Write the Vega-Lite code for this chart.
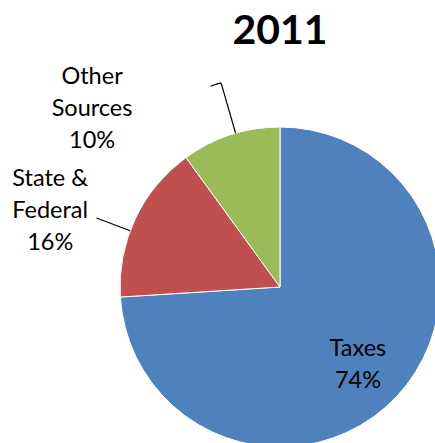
{
  "$schema": "https://vega.github.io/schema/vega-lite/v6.json",
  "width": 320,
  "height": 320,
  "autosize": {"type": "none"},
  "padding": {"left": 120, "top": 127, "right": 0, "bottom": 0},
  "background": "white",
  "config": {"view": {"stroke": null}, "font": "Lato"},
  "title": {"text": "2011", "fontSize": 41, "fontWeight": "bold", "font": "Lato", "color": "#000", "anchor": "middle", "frame": "group", "baseline": "alphabetic", "offset": -20},
  "data": {
    "values": [
      {"slice": "Taxes", "value": 74, "order": 1, "label": ["Taxes", "74%"]},
      {"slice": "State & Federal", "value": 16, "order": 2, "label": ["State &", "Federal", "16%"]},
      {"slice": "Other Sources", "value": 10, "order": 3, "label": ["Other", "Sources", "10%"]}
    ]
  },
  "transform": [{"stack": "value", "sort": [{"field": "order"}], "groupby": [], "as": ["s", "e"]}],
  "layer": [
    {
      "mark": {"type": "arc", "radius": 160, "stroke": "#ffffff", "strokeWidth": 1},
      "encoding": {
        "theta": {"field": "s", "type": "quantitative", "scale": {"domain": [0, 100]}},
        "theta2": {"field": "e"},
        "color": {"field": "slice", "type": "nominal", "scale": {"domain": ["Taxes", "State & Federal", "Other Sources"], "range": ["#4F81BD", "#C0504D", "#9BBB59"]}, "legend": null}
      }
    },
    {
      "transform": [{"filter": "datum.slice === 'Other Sources'"}],
      "mark": {"type": "arc", "radius": 212, "radius2": 160, "thetaOffset": -0.281, "theta2Offset": -0.281, "fillOpacity": 0, "stroke": "#000000", "strokeWidth": 1.2},
      "encoding": {"theta": {"field": "e", "type": "quantitative", "scale": {"domain": [0, 100]}}, "theta2": {"field": "e"}}
    },
    {
      "transform": [{"filter": "datum.slice === 'Other Sources'"}],
      "mark": {"type": "arc", "radius": 212.4, "radius2": 212.4, "thetaOffset": -0.281, "theta2Offset": -0.3334, "fillOpacity": 0, "stroke": "#000000", "strokeWidth": 1.2},
      "encoding": {"theta": {"field": "e", "type": "quantitative", "scale": {"domain": [0, 100]}}, "theta2": {"field": "e"}}
    },
    {
      "transform": [{"filter": "datum.slice === 'State & Federal'"}],
      "mark": {"type": "arc", "radius": 196, "radius2": 160, "thetaOffset": -0.583, "theta2Offset": -0.583, "fillOpacity": 0, "stroke": "#000000", "strokeWidth": 1.2},
      "encoding": {"theta": {"field": "e", "type": "quantitative", "scale": {"domain": [0, 100]}}, "theta2": {"field": "e"}}
    },
    {
      "transform": [{"filter": "datum.slice === 'Taxes'"}],
      "mark": {"type": "text", "radius": 99.6, "thetaOffset": 2.243, "fontSize": 23.5, "lineHeight": 32, "align": "center", "baseline": "middle", "font": "Lato", "color": "#000000"},
      "encoding": {
        "theta": {"field": "s", "type": "quantitative", "scale": {"domain": [0, 100]}},
        "text": {"field": "label"}
      }
    },
    {
      "transform": [{"filter": "datum.slice === 'State & Federal'"}],
      "mark": {"type": "text", "radius": 254, "thetaOffset": 0.5027, "fontSize": 23.5, "lineHeight": 32, "align": "center", "baseline": "middle", "font": "Lato", "color": "#000000"},
      "encoding": {
        "theta": {"field": "s", "type": "quantitative", "scale": {"domain": [0, 100]}},
        "text": {"field": "label"}
      }
    },
    {
      "transform": [{"filter": "datum.slice === 'Other Sources'"}],
      "mark": {"type": "text", "radius": 282, "thetaOffset": -0.1012, "fontSize": 23.5, "lineHeight": 32, "align": "center", "baseline": "middle", "font": "Lato", "color": "#000000"},
      "encoding": {
        "theta": {"field": "s", "type": "quantitative", "scale": {"domain": [0, 100]}},
        "text": {"field": "label"}
      }
    }
  ]
}
